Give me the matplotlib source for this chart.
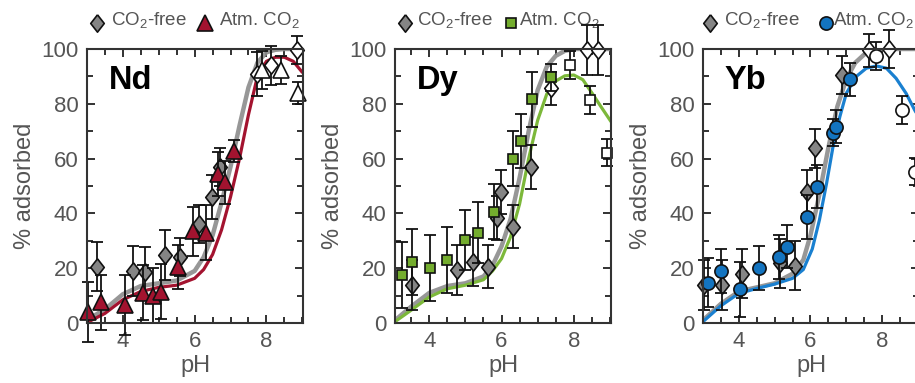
import matplotlib
matplotlib.use("Agg")
import matplotlib.pyplot as plt
from matplotlib.ticker import FixedLocator, MultipleLocator

plt.rcParams["font.family"] = ["Liberation Sans", "DejaVu Sans"]
plt.rcParams["mathtext.fontset"] = "custom"
plt.rcParams["mathtext.rm"] = "Liberation Sans"
plt.rcParams["mathtext.it"] = "Liberation Sans:italic"

# ---------------- Nd ----------------
nd_free_ph = [3.27, 4.29, 4.62, 5.18, 5.60, 6.12, 6.47, 6.70]
nd_free_val = [20.5, 19.0, 18.6, 24.8, 24.2, 36.2, 46.0, 57.0]
nd_free_err = [9, 9, 9, 9, 7, 7, 8, 7]
nd_free_open_ph = [7.73, 8.14, 8.84]
nd_free_open_val = [91.0, 94.0, 99.6]
nd_free_open_err = [8, 7, 5]

nd_atm_ph = [3.04, 3.40, 4.06, 4.56, 4.85, 5.07, 5.53, 5.95, 6.31, 6.64, 6.86, 7.10]
nd_atm_val = [4.1, 7.5, 6.5, 11.0, 10.0, 11.4, 20.3, 33.5, 33.0, 54.3, 51.3, 62.8]
nd_atm_err = [11, 10, 11, 10, 10, 10, 8, 9, 10, 8, 8, 4]
nd_atm_open_ph = [7.87, 8.42, 8.89]
nd_atm_open_val = [92.3, 92.3, 83.8]
nd_atm_open_err = [7, 5, 4]

nd_free_model_ph = [3.05, 3.5, 4.0, 4.5, 5.0, 5.5, 6.0, 6.25, 6.5, 6.75, 7.0, 7.25, 7.5, 7.75, 8.0, 8.25, 8.5, 9.0]
nd_free_model = [1.5, 5.0, 10.5, 13.5, 14.5, 15.5, 19.0, 24.0, 32.0, 44.0, 57.0, 72.0, 86.0, 95.0, 98.8, 99.7, 100.0, 100.0]
nd_atm_model_ph = [3.05, 3.5, 4.0, 4.5, 5.0, 5.5, 6.0, 6.25, 6.5, 6.75, 7.0, 7.25, 7.5, 7.75, 8.0, 8.25, 8.5, 8.75, 9.0]
nd_atm_model = [0.5, 3.5, 8.5, 11.5, 13.0, 13.8, 16.3, 19.5, 25.0, 34.0, 46.0, 60.0, 76.0, 90.0, 95.5, 97.0, 97.0, 95.5, 91.5]

# ---------------- Dy ----------------
dy_free_ph = [3.51, 4.76, 5.22, 5.62, 5.87, 5.99, 6.33, 6.81]
dy_free_val = [13.9, 19.3, 22.4, 20.6, 38.2, 47.9, 35.2, 57.0]
dy_free_err = [9, 9, 9, 8, 8, 8, 8, 8]
dy_free_open_ph = [7.37, 8.36, 8.68]
dy_free_open_val = [85.6, 99.6, 99.6]
dy_free_open_err = [6, 9, 9]

dy_atm_ph = [3.24, 3.53, 4.02, 4.48, 4.99, 5.36, 5.80, 6.33, 6.53, 6.83, 7.36]
dy_atm_val = [17.5, 22.4, 20.0, 23.0, 30.3, 33.0, 40.6, 60.0, 66.4, 81.6, 89.7]
dy_atm_err = [12, 12, 12, 12, 11, 11, 10, 10, 10, 10, 5]
dy_atm_open_ph = [7.90, 8.45, 8.91]
dy_atm_open_val = [94.2, 81.4, 62.2]
dy_atm_open_err = [5, 5, 5]

dy_free_model_ph = [3.05, 3.5, 4.0, 4.5, 5.0, 5.5, 5.75, 6.0, 6.25, 6.5, 6.75, 7.0, 7.25, 7.5, 7.75, 8.0, 9.0]
dy_free_model = [1.0, 6.0, 11.0, 13.5, 14.5, 17.0, 21.0, 28.0, 38.0, 53.0, 70.0, 85.0, 93.5, 97.5, 99.3, 100.0, 100.0]
dy_atm_model_ph = [3.05, 3.5, 4.0, 4.5, 5.0, 5.5, 5.75, 6.0, 6.25, 6.5, 6.75, 7.0, 7.25, 7.5, 7.75, 8.0, 8.25, 8.5, 8.75, 9.03]
dy_atm_model = [0.5, 4.7, 9.5, 12.5, 13.8, 15.8, 19.0, 23.5, 31.5, 43.5, 60.0, 74.0, 83.5, 88.3, 90.2, 90.5, 88.8, 84.0, 79.0, 73.5]

# ---------------- Yb ----------------
yb_free_ph = [3.02, 3.54, 4.09, 5.16, 5.56, 5.89, 6.14, 6.88]
yb_free_val = [13.9, 13.9, 18.0, 21.8, 20.9, 47.9, 63.7, 90.5]
yb_free_err = [9, 9, 9, 9, 9, 8, 7, 7]
yb_free_open_ph = [7.63, 8.18]
yb_free_open_val = [99.6, 100.0]
yb_free_open_err = [6, 7]

yb_atm_ph = [3.13, 3.49, 4.03, 4.56, 5.11, 5.35, 5.89, 6.19, 6.63, 6.70, 7.11]
yb_atm_val = [14.7, 19.1, 12.3, 20.0, 24.2, 27.9, 38.6, 49.8, 69.5, 71.7, 88.9]
yb_atm_err = [9, 8, 10, 8, 8, 8, 8, 8, 5, 6, 6]
yb_atm_open_ph = [7.83, 8.56, 8.93]
yb_atm_open_val = [97.4, 77.7, 55.2]
yb_atm_open_err = [5, 5, 5]

yb_free_model_ph = [3.0, 3.5, 4.0, 4.5, 5.0, 5.5, 5.8, 6.0, 6.25, 6.5, 6.75, 7.0, 7.25, 7.5, 7.75, 8.0, 9.05]
yb_free_model = [1.0, 7.0, 11.5, 13.0, 14.5, 18.0, 23.0, 32.0, 47.0, 64.0, 79.0, 89.0, 95.0, 98.0, 99.5, 100.0, 100.0]
yb_atm_model_ph = [3.0, 3.5, 4.0, 4.5, 5.0, 5.5, 5.8, 6.05, 6.25, 6.45, 6.63, 6.82, 7.0, 7.28, 7.56, 7.84, 8.12, 8.39, 8.67, 8.91, 9.05]
yb_atm_model = [0.5, 6.3, 10.8, 12.6, 14.2, 16.3, 19.5, 27.0, 37.6, 51.0, 64.4, 75.3, 83.8, 90.0, 93.0, 93.8, 93.0, 89.3, 83.8, 77.7, 74.5]

# ---------------- plotting ----------------
W, H = 915, 383
fig = plt.figure(figsize=(W / 100, H / 100), dpi=100)

TEXT = "#555555"
SPINE = "#333333"
GRAY_FILL = "#858585"
GRAY_LINE = "#8c8c8c"

diamond = [(0, 1), (0.78, 0), (0, -1), (-0.78, 0), (0, 1)]

panels = [
    dict(name="Nd", left=87, xlim=(3.0, 9.02),
         free=(nd_free_ph, nd_free_val, nd_free_err),
         free_open=(nd_free_open_ph, nd_free_open_val, nd_free_open_err),
         atm=(nd_atm_ph, nd_atm_val, nd_atm_err),
         atm_open=(nd_atm_open_ph, nd_atm_open_val, nd_atm_open_err),
         free_model=(nd_free_model_ph, nd_free_model),
         atm_model=(nd_atm_model_ph, nd_atm_model),
         color="#a3132f", line="#a3132f", marker="^", ms=11,
         leg=(0.045, 0.110, 0.546, 0.612)),
    dict(name="Dy", left=395, xlim=(3.05, 9.03),
         free=(dy_free_ph, dy_free_val, dy_free_err),
         free_open=(dy_free_open_ph, dy_free_open_val, dy_free_open_err),
         atm=(dy_atm_ph, dy_atm_val, dy_atm_err),
         atm_open=(dy_atm_open_ph, dy_atm_open_val, dy_atm_open_err),
         free_model=(dy_free_model_ph, dy_free_model),
         atm_model=(dy_atm_model_ph, dy_atm_model),
         color="#74ad2e", line="#7cb83a", marker="s", ms=7.5,
         leg=(0.046, 0.104, 0.536, 0.572)),
    dict(name="Yb", left=703, xlim=(3.0, 9.03),
         free=(yb_free_ph, yb_free_val, yb_free_err),
         free_open=(yb_free_open_ph, yb_free_open_val, yb_free_open_err),
         atm=(yb_atm_ph, yb_atm_val, yb_atm_err),
         atm_open=(yb_atm_open_ph, yb_atm_open_val, yb_atm_open_err),
         free_model=(yb_free_model_ph, yb_free_model),
         atm_model=(yb_atm_model_ph, yb_atm_model),
         color="#1374c0", line="#1a80d0", marker="o", ms=9.5,
         leg=(0.032, 0.098, 0.571, 0.600)),
]

ax_w = 216 / W
ax_b = (H - 323) / H
ax_h = 274 / H

for p in panels:
    ax = fig.add_axes([p["left"] / W, ax_b, ax_w, ax_h])
    ax.set_xlim(*p["xlim"])
    ax.set_ylim(0, 100)

    # model curves
    ax.plot(*p["free_model"], color=GRAY_LINE, lw=3.2, alpha=0.9, zorder=2,
            solid_capstyle="round")
    ax.plot(*p["atm_model"], color=p["line"], lw=2.3, zorder=3,
            solid_capstyle="round")

    def draw(data, marker, ms, face, z):
        x, y, e = data
        ax.errorbar(x, y, yerr=e, fmt="none", ecolor="#111111",
                    elinewidth=1.3, capsize=4, capthick=1.3, zorder=z,
                    clip_on=False)
        ax.plot(x, y, linestyle="none", marker=marker, ms=ms,
                markerfacecolor=face, markeredgecolor="#111111",
                markeredgewidth=1.2, zorder=z + 0.5, clip_on=False)

    draw(p["free"], diamond, 12.5, GRAY_FILL, 4)
    draw(p["free_open"], diamond, 12.5, "white", 4)
    draw(p["atm"], p["marker"], p["ms"], p["color"], 5)
    draw(p["atm_open"], p["marker"], p["ms"], "white", 5)

    # axes styling
    for s in ax.spines.values():
        s.set_color(SPINE)
        s.set_linewidth(1.5)
        s.set_zorder(6)
    ax.xaxis.set_major_locator(FixedLocator([4, 6, 8]))
    ax.xaxis.set_minor_locator(MultipleLocator(0.5))
    ax.yaxis.set_major_locator(MultipleLocator(20))
    ax.yaxis.set_minor_locator(MultipleLocator(10))
    ax.tick_params(which="both", direction="in", top=True, right=True,
                   color="#222222", width=1.3)
    ax.tick_params(which="major", length=6, labelsize=16,
                   labelcolor=TEXT, pad=6)
    ax.tick_params(which="minor", length=4)
    ax.set_xlabel("pH", fontsize=17, color=TEXT, labelpad=2)
    ax.set_ylabel("% adsorbed", fontsize=17, color=TEXT, labelpad=4)

    ax.text(0.10, 0.885, p["name"], transform=ax.transAxes, fontsize=23.5,
            fontweight="bold", color="black", va="center", ha="left",
            zorder=7)

    # legend row above the panel
    lx1, tx1, lx2, tx2 = p["leg"]
    ly = 1.095
    ax.plot([lx1], [ly], marker=diamond, ms=12.5, markerfacecolor=GRAY_FILL,
            markeredgecolor="#111111", markeredgewidth=1.2,
            transform=ax.transAxes, clip_on=False)
    ax.text(tx1, ly + 0.01, "CO$_2$-free", transform=ax.transAxes,
            fontsize=13.5, color=TEXT, va="center", ha="left")
    ax.plot([lx2], [ly], marker=p["marker"], ms=p["ms"],
            markerfacecolor=p["color"], markeredgecolor="#111111",
            markeredgewidth=1.2, transform=ax.transAxes, clip_on=False)
    ax.text(tx2, ly + 0.01, "Atm. CO$_2$", transform=ax.transAxes,
            fontsize=13.5, color=TEXT, va="center", ha="left")

fig.savefig("out.png", dpi=100)
